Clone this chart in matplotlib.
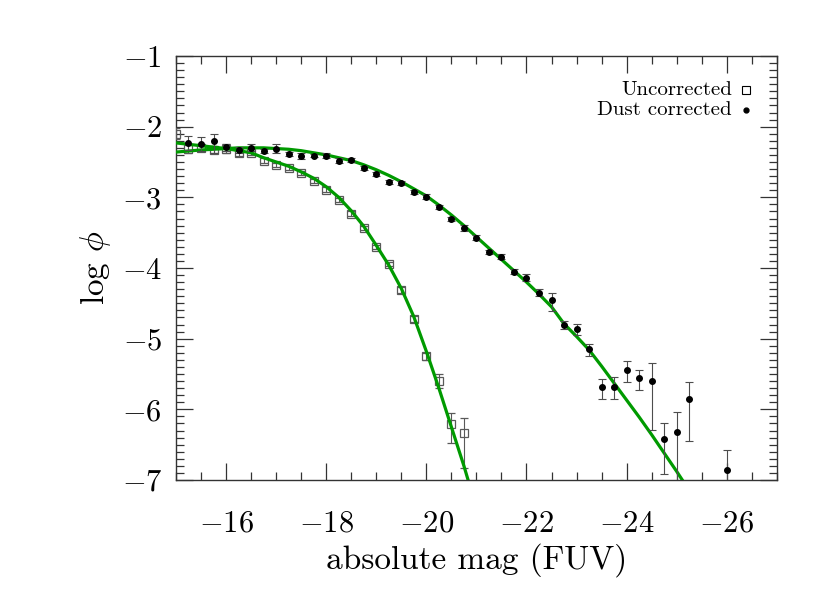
import numpy as np
import matplotlib
matplotlib.use("Agg")
import matplotlib.pyplot as plt
from matplotlib.ticker import MultipleLocator

plt.rcParams['font.family'] = 'cmr10'
plt.rcParams['mathtext.fontset'] = 'cm'
plt.rcParams['axes.formatter.use_mathtext'] = True

# Uncorrected luminosity function (open squares)
unc_mag = [-15.0, -15.25, -15.5, -15.75, -16.0, -16.25, -16.5, -16.75, -17.0, -17.25,
           -17.5, -17.75, -18.0, -18.25, -18.5, -18.75, -19.0, -19.25, -19.5, -19.75,
           -20.0, -20.25, -20.5, -20.75]
unc_phi = [-2.10, -2.31, -2.30, -2.33, -2.31, -2.38, -2.37, -2.48, -2.54, -2.58,
           -2.66, -2.77, -2.89, -3.04, -3.23, -3.43, -3.70, -3.94, -4.31, -4.72,
           -5.25, -5.60, -6.21, -6.34]
unc_err_lo = [0.08, 0.06, 0.05, 0.05, 0.06, 0.04, 0.03, 0.03, 0.03, 0.03,
              0.03, 0.03, 0.03, 0.03, 0.03, 0.03, 0.03, 0.03, 0.04, 0.04,
              0.05, 0.10, 0.26, 0.49]
unc_err_hi = [0.08, 0.06, 0.05, 0.05, 0.06, 0.04, 0.03, 0.03, 0.03, 0.03,
              0.03, 0.03, 0.03, 0.03, 0.03, 0.03, 0.03, 0.03, 0.04, 0.04,
              0.05, 0.10, 0.16, 0.22]

# Dust corrected luminosity function (filled circles)
dust_mag = [-15.25, -15.5, -15.75, -16.0, -16.25, -16.5, -16.75, -17.0, -17.25, -17.5,
            -17.75, -18.0, -18.25, -18.5, -18.75, -19.0, -19.25, -19.5, -19.75, -20.0,
            -20.25, -20.5, -20.75, -21.0, -21.25, -21.5, -21.75, -22.0, -22.25, -22.5,
            -22.75, -23.0, -23.25, -23.5, -23.75, -24.0, -24.25, -24.5, -24.75, -25.0,
            -25.25, -26.0]
dust_phi = [-2.23, -2.25, -2.21, -2.29, -2.33, -2.30, -2.35, -2.31, -2.39, -2.42,
            -2.41, -2.41, -2.48, -2.47, -2.58, -2.67, -2.78, -2.80, -2.92, -2.99,
            -3.14, -3.31, -3.43, -3.57, -3.77, -3.84, -4.05, -4.14, -4.35, -4.46,
            -4.81, -4.87, -5.14, -5.69, -5.68, -5.44, -5.56, -5.60, -6.42, -6.32,
            -5.86, -6.86]
dust_err_lo = [0.10, 0.10, 0.16, 0.05, 0.04, 0.05, 0.03, 0.06, 0.03, 0.04,
               0.02, 0.03, 0.03, 0.03, 0.03, 0.03, 0.03, 0.03, 0.03, 0.03,
               0.03, 0.03, 0.04, 0.03, 0.03, 0.04, 0.04, 0.05, 0.05, 0.15,
               0.06, 0.08, 0.10, 0.17, 0.18, 0.18, 0.16, 0.69, 0.49, 0.80,
               0.59, 0.70]
dust_err_hi = [0.10, 0.10, 0.11, 0.05, 0.04, 0.05, 0.03, 0.06, 0.03, 0.04,
               0.02, 0.03, 0.03, 0.03, 0.03, 0.03, 0.03, 0.03, 0.03, 0.03,
               0.03, 0.03, 0.04, 0.03, 0.03, 0.04, 0.04, 0.05, 0.05, 0.11,
               0.06, 0.08, 0.07, 0.12, 0.14, 0.12, 0.12, 0.26, 0.22, 0.28,
               0.24, 0.28]

# Fitted curves
fit_unc_mag = [-14.9, -15.0, -15.25, -15.5, -15.75, -16.0, -16.25, -16.5, -16.75, -17.0,
               -17.25, -17.5, -17.75, -18.0, -18.25, -18.5, -18.75, -19.0, -19.25,
               -19.5, -19.75, -20.0, -20.25, -20.5, -20.75, -21.0]
fit_unc_phi = [-2.22, -2.23, -2.25, -2.27, -2.29, -2.31, -2.34, -2.37, -2.44, -2.50,
               -2.56, -2.64, -2.73, -2.85, -3.00, -3.19, -3.41, -3.68, -3.96,
               -4.29, -4.69, -5.18, -5.70, -6.25, -6.80, -7.40]
fit_dust_mag = [-14.9, -15.0, -15.25, -15.5, -15.75, -16.0, -16.25, -16.5, -16.75, -17.0,
                -17.25, -17.5, -17.75, -18.0, -18.25, -18.5, -18.75, -19.0, -19.25,
                -19.5, -19.75, -20.0, -20.25, -20.5, -20.75, -21.0, -21.25, -21.5,
                -21.75, -22.0, -22.25, -22.5, -22.75, -23.0, -23.25, -23.5, -23.75,
                -24.0, -24.25, -24.5, -24.75, -25.0, -25.25]
fit_dust_phi = [-2.365, -2.36, -2.345, -2.33, -2.32, -2.31, -2.30, -2.30, -2.30, -2.31,
                -2.32, -2.34, -2.37, -2.40, -2.44, -2.48, -2.54, -2.61, -2.69,
                -2.78, -2.88, -2.98, -3.11, -3.25, -3.40, -3.56, -3.72, -3.88,
                -4.04, -4.20, -4.37, -4.55, -4.79, -4.97, -5.16, -5.39, -5.63,
                -5.87, -6.11, -6.36, -6.62, -6.88, -7.15]

GREEN = '#009a00'

fig = plt.figure(figsize=(8.30, 5.93), dpi=100)
ax = fig.add_axes([0.212, 0.1906, 0.724, 0.715])

ax.plot(fit_unc_mag, fit_unc_phi, color=GREEN, lw=2.3, zorder=4)
ax.plot(fit_dust_mag, fit_dust_phi, color=GREEN, lw=2.3, zorder=4)

ax.errorbar(unc_mag, unc_phi, yerr=[unc_err_lo, unc_err_hi], fmt='s',
            mfc='none', mec='0.35', mew=0.9, ms=5.5, ecolor='0.35',
            elinewidth=0.8, capsize=3, capthick=0.8, zorder=3)
ax.errorbar(dust_mag, dust_phi, yerr=[dust_err_lo, dust_err_hi], fmt='o',
            mfc='black', mec='black', ms=4, ecolor='0.3',
            elinewidth=0.8, capsize=3, capthick=0.8, zorder=5)

# legend (marker to the right of text)
ax.text(0.925, 0.92, 'Uncorrected', transform=ax.transAxes, ha='right', va='center', fontsize=15)
ax.text(0.925, 0.873, 'Dust corrected', transform=ax.transAxes, ha='right', va='center', fontsize=15)
ax.plot([0.948], [0.92], 's', transform=ax.transAxes, mfc='none', mec='black', mew=0.8, ms=5.5)
ax.plot([0.948], [0.873], 'o', transform=ax.transAxes, color='black', ms=3.5)

ax.set_xlim(-15, -27)
ax.set_ylim(-7, -1)
ax.xaxis.set_major_locator(MultipleLocator(2))
ax.xaxis.set_minor_locator(MultipleLocator(0.5))
ax.yaxis.set_major_locator(MultipleLocator(1))
ax.yaxis.set_minor_locator(MultipleLocator(0.1))
ax.tick_params(which='both', direction='in', top=True, right=True, color='0.2', width=0.9)
ax.tick_params(which='major', length=12)
ax.tick_params(which='minor', length=6)
ax.tick_params(axis='x', which='major', labelsize=22, pad=22)
ax.tick_params(axis='y', which='major', labelsize=22, pad=10)
for s in ax.spines.values():
    s.set_linewidth(1.0)
    s.set_color('0.2')

ax.set_xlabel('absolute mag (FUV)', fontsize=24, labelpad=4)
ax.set_ylabel(r'log $\phi$', fontsize=24, labelpad=6)

fig.savefig('out.png', dpi=100)
